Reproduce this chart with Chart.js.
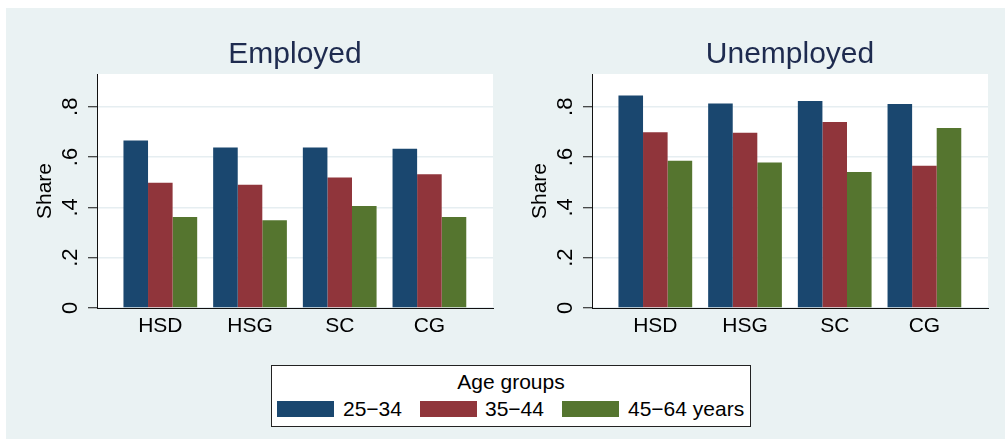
<!DOCTYPE html>
<html>
<head>
<meta charset="utf-8">
<script src="https://cdn.jsdelivr.net/npm/chart.js@4.4.0/dist/chart.umd.min.js"></script>
<style>
  html, body { margin: 0; padding: 0; background: #ffffff; }
  body { width: 1005px; height: 439px; position: relative; overflow: hidden;
         font-family: "Liberation Sans", Arial, sans-serif; }
  #bg { position: absolute; left: 6px; top: 8px; right: 0; bottom: 0; background: #EAF2F3; }
  #c1wrap { position: absolute; left: 0; top: 0; width: 500px; height: 350px; }
  #c2wrap { position: absolute; left: 500px; top: 0; width: 505px; height: 350px; }
  #legend { position: absolute; left: 271px; top: 365px; width: 478px; height: 60px;
            background: #fff; border: 1px solid #222; }
  #legend .ttl { position: absolute; left: 0; right: 0; top: 4px; text-align: center;
                 font-size: 21px; color: #000; line-height: 24px; }
  #legend .sw { position: absolute; top: 35px; width: 57px; height: 16px; }
  #legend .lb { position: absolute; top: 31px; font-size: 21px; line-height: 24px; color: #000; white-space: nowrap; }
</style>
</head>
<body>
<div id="bg"></div>
<div id="c1wrap"><canvas id="c1" width="500" height="350"></canvas></div>
<div id="c2wrap"><canvas id="c2" width="505" height="350"></canvas></div>
<div id="legend"></div>
<script>
// ---- data ----
const categories = ["HSD", "HSG", "SC", "CG"];
const seriesNames = ["25\u221234", "35\u221244", "45\u221264 years"];
const legendTitle = "Age groups";
const panelTitles = ["Employed", "Unemployed"];
const yAxisTitle = "Share";
const yTickValues = [0, 0.2, 0.4, 0.6, 0.8];
const yTickLabels = ["0", ".2", ".4", ".6", ".8"];

const employed_25_34 = [0.666, 0.638, 0.638, 0.633];
const employed_35_44 = [0.498, 0.490, 0.519, 0.532];
const employed_45_64 = [0.362, 0.349, 0.405, 0.362];

const unemployed_25_34 = [0.845, 0.813, 0.823, 0.811];
const unemployed_35_44 = [0.698, 0.697, 0.739, 0.565];
const unemployed_45_64 = [0.585, 0.578, 0.541, 0.715];

const seriesColors = ["#1A476F", "#90353B", "#55752F"];

// ---- helpers ----
const FONT = '"Liberation Sans", Arial, sans-serif';

function toPoints(arr) { return arr.map((v, i) => ({ x: i + 1, y: v })); }

const panelDecor = {
  id: 'panelDecor',
  beforeDraw(chart, args, opts) {
    const ca = chart.chartArea, ctx = chart.ctx;
    ctx.save();
    ctx.fillStyle = '#ffffff';
    ctx.fillRect(ca.left, ca.top, ca.right - ca.left, ca.bottom - ca.top);
    ctx.restore();
  },
  afterDraw(chart, args, opts) {
    const ca = chart.chartArea, ctx = chart.ctx;
    const ys = chart.scales.y;
    ctx.save();
    // title
    ctx.fillStyle = '#1E2B4F';
    ctx.font = '30px ' + FONT;
    ctx.textAlign = 'center';
    ctx.textBaseline = 'alphabetic';
    ctx.fillText(opts.title, (ca.left + ca.right) / 2, 63);
    // y tick labels, rotated
    ctx.fillStyle = '#000';
    ctx.font = '22px ' + FONT;
    ctx.textBaseline = 'middle';
    ys.ticks.forEach((t, i) => {
      const py = ys.getPixelForValue(t.value);
      ctx.save();
      ctx.translate(ca.left - 26, py);
      ctx.rotate(-Math.PI / 2);
      ctx.textAlign = 'center';
      ctx.fillText(yTickLabels[yTickValues.indexOf(t.value)], 0, 0);
      ctx.restore();
    });
    // y axis title
    ctx.font = '21px ' + FONT;
    ctx.save();
    ctx.translate(ca.left - 51.5, (ca.top + ca.bottom) / 2);
    ctx.rotate(-Math.PI / 2);
    ctx.textAlign = 'center';
    ctx.fillText(yAxisTitle, 0, 0);
    ctx.restore();
    ctx.restore();
  }
};

function makeChart(canvasId, title, d1, d2, d3, yWidth, rightPad) {
  const datasets = [d1, d2, d3].map((d, i) => ({
    label: seriesNames[i],
    data: toPoints(d),
    backgroundColor: seriesColors[i],
    borderWidth: 0,
    barPercentage: 1.0,
    categoryPercentage: 0.822
  }));
  return new Chart(document.getElementById(canvasId), {
    type: 'bar',
    data: { datasets },
    plugins: [panelDecor],
    options: {
      responsive: false,
      animation: false,
      events: [],
      layout: { padding: { left: 0, top: 74, right: rightPad, bottom: 0 } },
      plugins: {
        legend: { display: false },
        title: { display: false },
        tooltip: { enabled: false },
        panelDecor: { title }
      },
      scales: {
        x: {
          type: 'linear',
          min: 0.294,
          max: 4.709,
          offset: false,
          afterBuildTicks: s => { s.ticks = categories.map((c, i) => ({ value: i + 1 })); },
          afterFit: s => { s.height = 42; },
          grid: { display: false, drawTicks: false },
          border: { display: true, color: '#111', width: 1 },
          ticks: {
            padding: 6,
            autoSkip: false,
            maxRotation: 0,
            color: '#000',
            font: { family: FONT, size: 21 },
            callback: v => categories[Math.round(v) - 1] || ''
          }
        },
        y: {
          type: 'linear',
          min: 0,
          max: 0.93,
          afterBuildTicks: s => { s.ticks = yTickValues.map(v => ({ value: v })); },
          afterFit: s => { s.width = yWidth; },
          grid: { color: '#E6EEF1', lineWidth: 1.5, drawTicks: true, tickLength: 9, tickColor: '#111', tickWidth: 1 },
          border: { display: true, color: '#111', width: 1 },
          ticks: { display: false }
        }
      }
    }
  });
}

makeChart('c1', panelTitles[0], employed_25_34, employed_35_44, employed_45_64, 97, 7);
makeChart('c2', panelTitles[1], unemployed_25_34, unemployed_35_44, unemployed_45_64, 92, 17);

// ---- legend ----
const lg = document.getElementById('legend');
const t = document.createElement('div');
t.className = 'ttl'; t.textContent = legendTitle; lg.appendChild(t);
const swLeft = [5, 148, 290];
const lbLeft = [71, 213, 356];
seriesNames.forEach((n, i) => {
  const sw = document.createElement('div');
  sw.className = 'sw'; sw.style.left = swLeft[i] + 'px'; sw.style.background = seriesColors[i];
  lg.appendChild(sw);
  const lb = document.createElement('div');
  lb.className = 'lb'; lb.style.left = lbLeft[i] + 'px'; lb.textContent = n;
  lg.appendChild(lb);
});
</script>
</body>
</html>
